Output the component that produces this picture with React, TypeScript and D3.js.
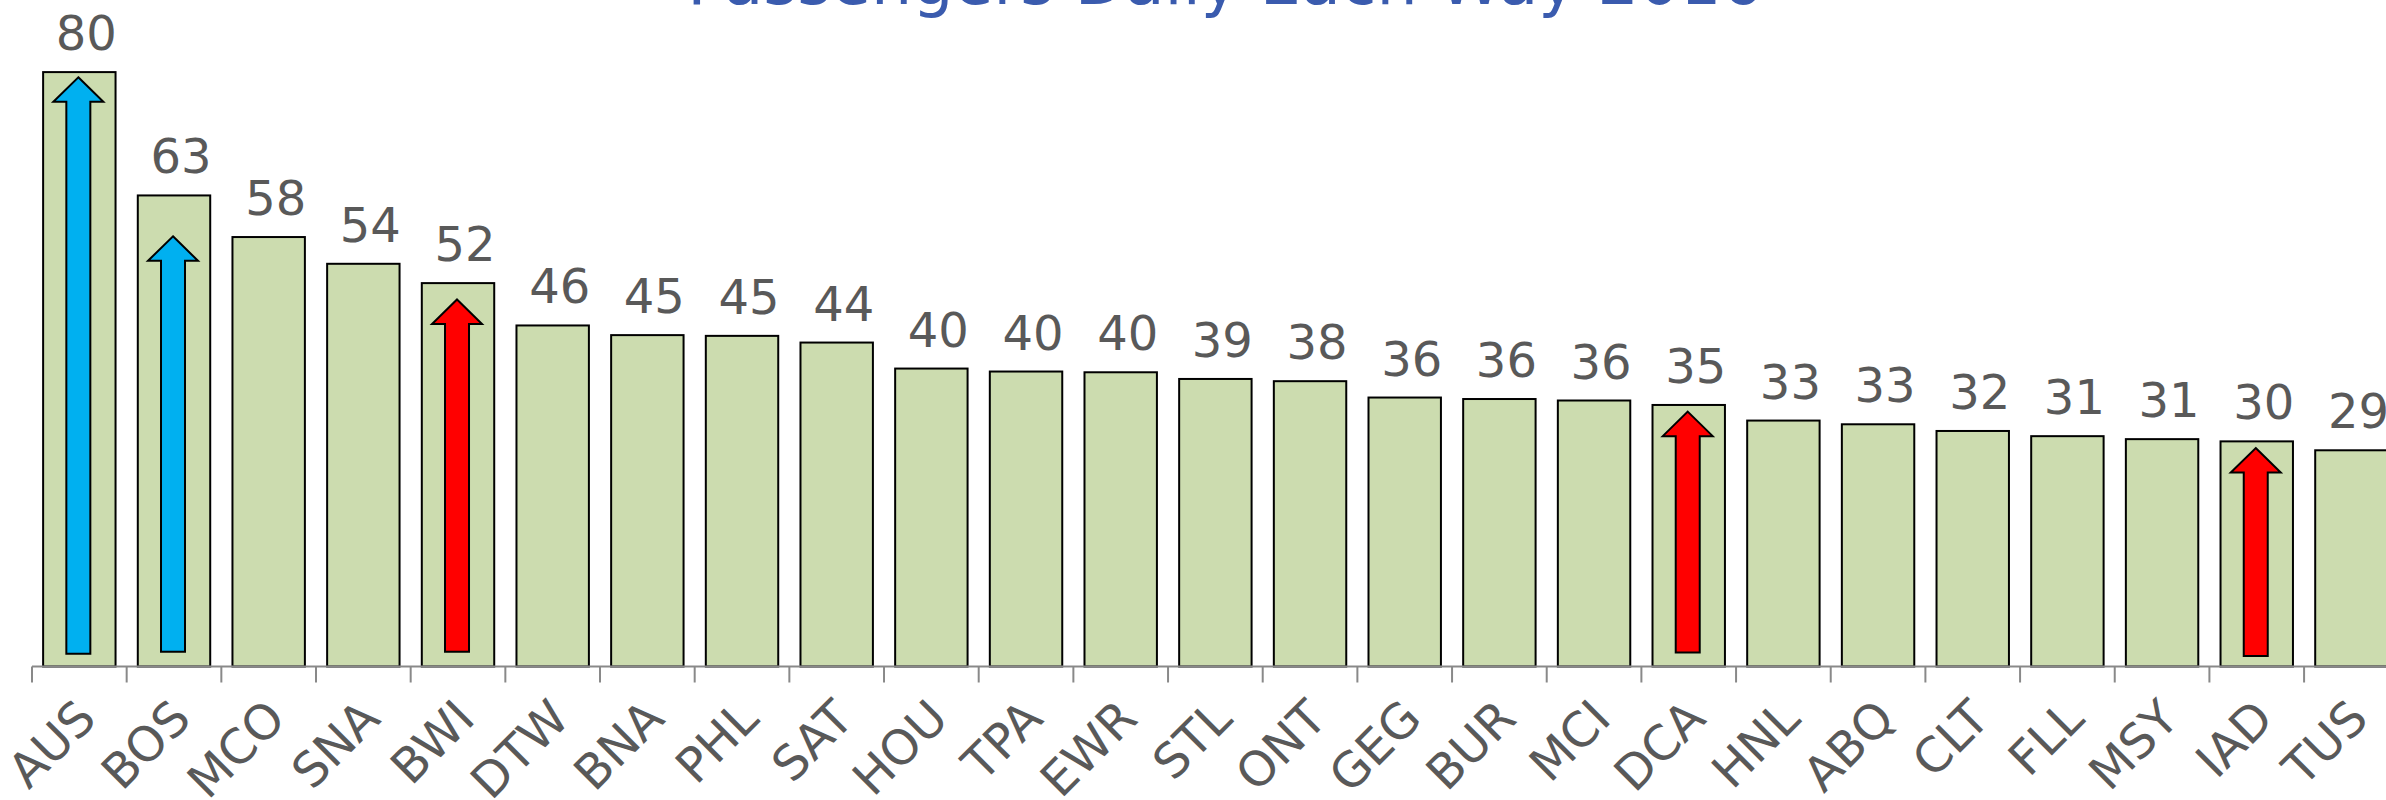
import React from "react";
import * as d3 from "d3";

// airports, sorted by daily passengers each way
const airports = [
	"AUS", "BOS", "MCO", "SNA", "BWI", "DTW", "BNA", "PHL", "SAT", "HOU",
	"TPA", "EWR", "STL", "ONT", "GEG", "BUR", "MCI", "DCA", "HNL", "ABQ",
	"CLT", "FLL", "MSY", "IAD", "TUS",
];
const passengers = [
	80.0, 63.4, 57.8, 54.2, 51.6, 45.9, 44.6, 44.5, 43.6, 40.1,
	39.7, 39.6, 38.7, 38.4, 36.2, 36.0, 35.8, 35.2, 33.1, 32.6,
	31.7, 31.0, 30.6, 30.3, 29.1,
];

// up-arrow annotations: which bar, colour, and bottom/tip in passenger units
const arrowAirports = ["AUS", "BOS", "BWI", "DCA", "IAD"];
const arrowColors = ["#00B0F0", "#00B0F0", "#FF0000", "#FF0000", "#FF0000"];
const arrowBottoms = [1.7, 2.0, 2.0, 1.9, 1.4];
const arrowTips = [79.3, 57.9, 49.4, 34.3, 29.4];

const title = "Passengers Daily Each Way 2016";

const W = 2386;
const H = 800;
const FONT = "'DejaVu Sans', Verdana, sans-serif";
const GREY = "#595959";

export default function App() {
	const pad = 0.235;
	const left = 32;
	const step = 94.67;
	const x = d3
		.scaleBand()
		.domain(airports)
		.range([left, left + step * airports.length])
		.paddingInner(pad)
		.paddingOuter(pad / 2);

	const baseY = 666.5;
	const y = d3.scaleLinear().domain([0, 80]).range([baseY, baseY - 594.4]);

	const bw = x.bandwidth();
	const headW = 50;
	const headH = 24.5;
	const shaftW = 24;

	const arrowPath = (cx: number, top: number, bottom: number) => {
		const p = d3.path();
		p.moveTo(cx, top);
		p.lineTo(cx + headW / 2, top + headH);
		p.lineTo(cx + shaftW / 2, top + headH);
		p.lineTo(cx + shaftW / 2, bottom);
		p.lineTo(cx - shaftW / 2, bottom);
		p.lineTo(cx - shaftW / 2, top + headH);
		p.lineTo(cx - headW / 2, top + headH);
		p.closePath();
		return p.toString();
	};

	const ticks = airports.map((a) => (x(a) as number) - (x.step() * pad) / 2);
	ticks.push(ticks[ticks.length - 1] + x.step());

	return (
		<svg
			width={W}
			height={H}
			style={{ position: "absolute", left: 0, top: 0, display: "block", background: "#fff" }}
			fontFamily={FONT}
		>
			<text x={1225} y={4} textAnchor="middle" fontSize={65} fill="#3A5BAE">
				{title}
			</text>

			{airports.map((a, i) => (
				<rect
					key={a}
					x={x(a)}
					y={y(passengers[i])}
					width={bw}
					height={baseY - y(passengers[i])}
					fill="#CCDCAF"
					stroke="#000"
					strokeWidth={2}
				/>
			))}

			{arrowAirports.map((a, i) => (
				<path
					key={a}
					d={arrowPath((x(a) as number) + bw / 2 - 1, y(arrowTips[i]), y(arrowBottoms[i]))}
					fill={arrowColors[i]}
					stroke="#000"
					strokeWidth={2}
					strokeLinejoin="miter"
				/>
			))}

			<line x1={left} x2={W} y1={baseY} y2={baseY} stroke="#898989" strokeWidth={2} />
			{ticks.map((t, i) => (
				<line key={i} x1={t} x2={t} y1={baseY} y2={baseY + 16} stroke="#898989" strokeWidth={2} />
			))}

			{airports.map((a, i) => (
				<text
					key={a}
					x={(x(a) as number) + bw / 2 + 7}
					y={y(passengers[i]) - 22}
					textAnchor="middle"
					fontSize={48}
					fill={GREY}
				>
					{Math.round(passengers[i])}
				</text>
			))}

			{airports.map((a) => (
				<text
					key={a}
					transform={`translate(${(x(a) as number) + bw / 2 + 19},${721}) rotate(-45)`}
					textAnchor="end"
					fontSize={48}
					fill={GREY}
				>
					{a}
				</text>
			))}
		</svg>
	);
}
